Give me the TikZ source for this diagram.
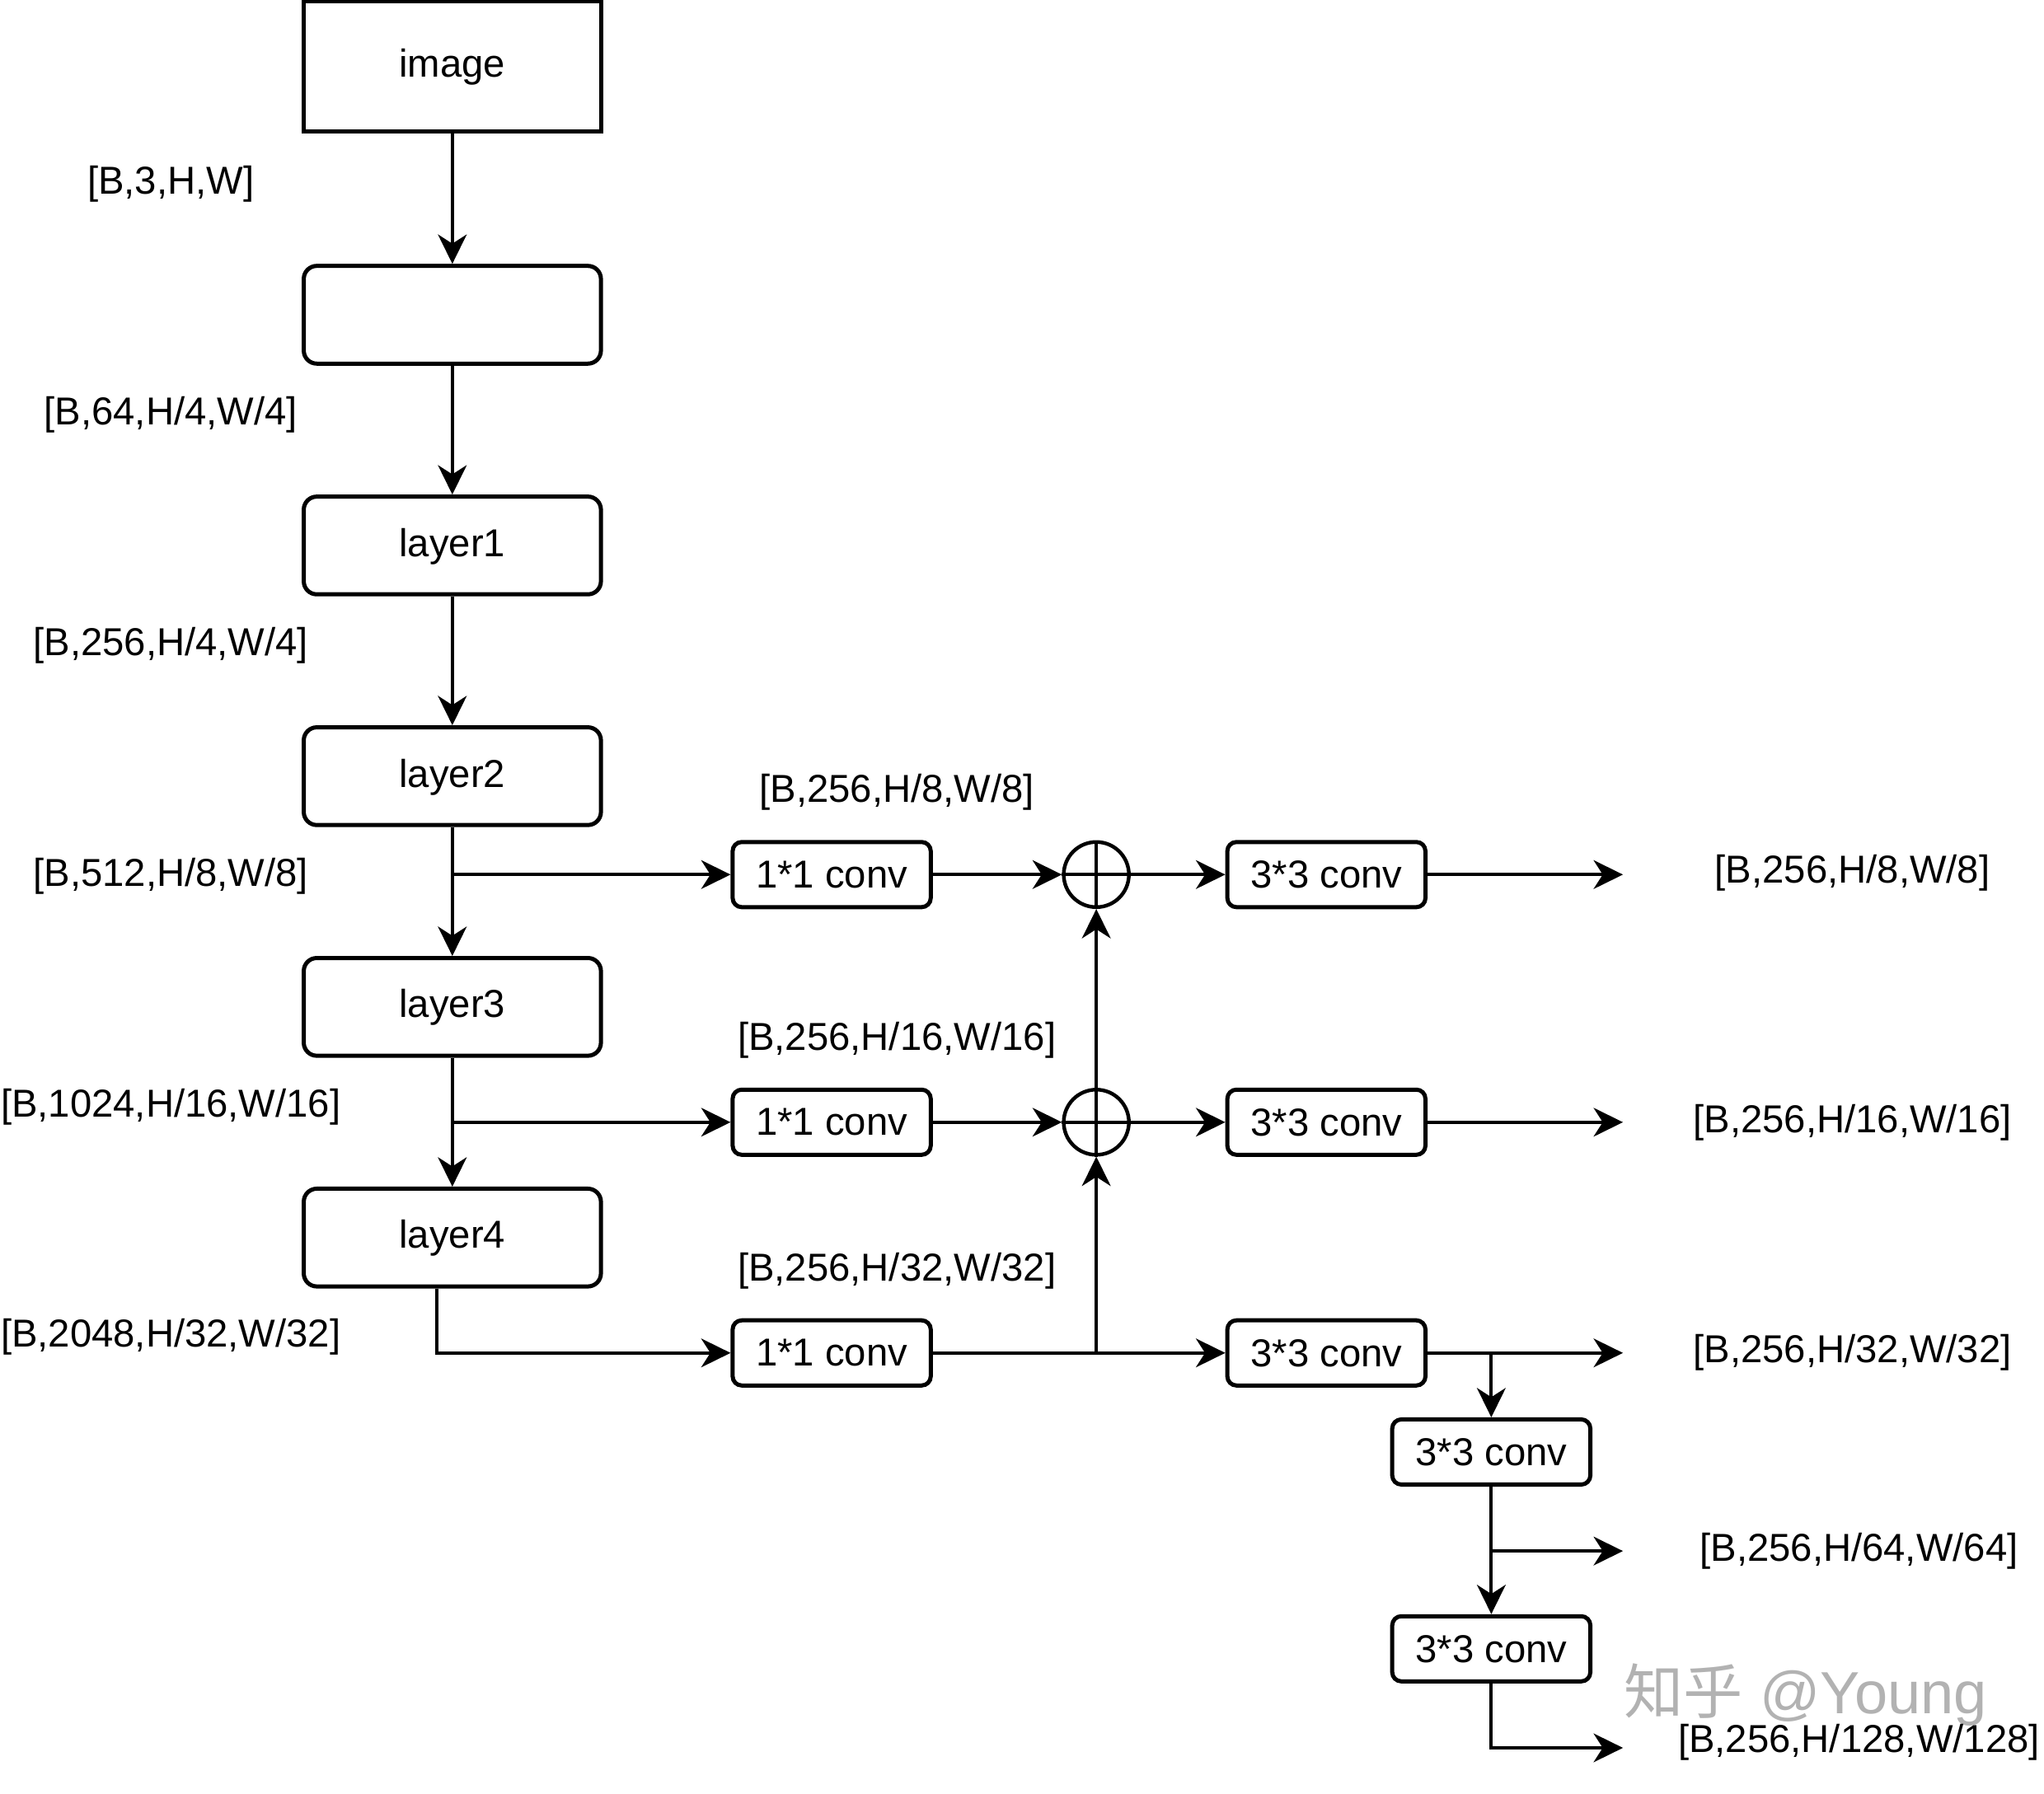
\documentclass[tikz,border=0pt]{standalone}
\usepackage{fontspec}
\setmainfont{Liberation Sans}
\newfontfamily\cjk{Noto Sans CJK SC}
\usetikzlibrary{arrows.meta}
\begin{document}
\begin{tikzpicture}[x=0.02cm,y=-0.02cm,
  font=\fontsize{17}{20}\selectfont,
  bigbox/.style={draw, line width=1.8pt, minimum width=4.56cm, minimum height=2cm, inner sep=0pt, text depth=0.1cm},
  layerbox/.style={draw, line width=1.8pt, rounded corners=0.2cm, minimum width=4.56cm, minimum height=1.5cm, inner sep=0pt, text depth=0.1cm},
  convbox/.style={draw, line width=1.8pt, rounded corners=0.14cm, minimum width=3.04cm, minimum height=1cm, inner sep=0pt},
  sumnode/.style={draw, circle, line width=1.6pt, minimum size=1cm, inner sep=0pt},
  lbl/.style={inner sep=0pt},
  arr/.style={line width=1.45pt, -{Stealth[length=0.45cm, width=0.44cm, inset=0.14cm]}},
  ln/.style={line width=1.45pt}
]
\useasboundingbox (0,0) rectangle (1568,1376);

% backbone
\node[bigbox] (img) at (347,51) {image};
\node[layerbox] (stem) at (347,241.5) {};
\node[layerbox] (l1) at (347,418.5) {layer1};
\node[layerbox] (l2) at (347,595.5) {layer2};
\node[layerbox] (l3) at (347,772.5) {layer3};
\node[layerbox] (l4) at (347,949.5) {layer4};

% left labels
\node[lbl] (t0) at (131,141) {[B,3,H,W]};
\node[lbl] (t1) at (131,318) {[B,64,H/4,W/4]};
\node[lbl] (t2) at (131,495) {[B,256,H/4,W/4]};
\node[lbl] (t3) at (131,672) {[B,512,H/8,W/8]};
\node[lbl] (t4) at (131,849) {[B,1024,H/16,W/16]};
\node[lbl] (t5) at (131,1026) {[B,2048,H/32,W/32]};

% lateral 1x1 convs
\node[convbox] (c1a) at (638,671) {1*1 conv};
\node[convbox] (c1b) at (638,861) {1*1 conv};
\node[convbox] (c1c) at (638,1038) {1*1 conv};
\node[lbl] (u1) at (688,608) {[B,256,H/8,W/8]};
\node[lbl] (u2) at (688,798) {[B,256,H/16,W/16]};
\node[lbl] (u3) at (688,975) {[B,256,H/32,W/32]};

% sums
\node[sumnode] (s1) at (841,671) {};
\node[sumnode] (s2) at (841,861) {};
\draw[line width=1.45pt] (s1.north) -- (s1.south) (s1.west) -- (s1.east);
\draw[line width=1.45pt] (s2.north) -- (s2.south) (s2.west) -- (s2.east);

% 3x3 convs
\node[convbox] (c3a) at (1017.5,671) {3*3 conv};
\node[convbox] (c3b) at (1017.5,861) {3*3 conv};
\node[convbox] (c3c) at (1017.5,1038) {3*3 conv};
\node[convbox] (c3d) at (1144,1114) {3*3 conv};
\node[convbox] (c3e) at (1144,1265) {3*3 conv};

% connector coordinates
\coordinate (o1) at (1245,671);
\coordinate (o2) at (1245,861);
\coordinate (o3) at (1245,1038);
\coordinate (o4) at (1245,1190);
\coordinate (o5) at (1245,1341);
\coordinate (j1) at (347,671);
\coordinate (j2) at (347,861);
\coordinate (j3) at (841,1038);
\coordinate (j4) at (1144,1038);
\coordinate (j5) at (1144,1190);

% watermark
\node[lbl, text=black!30, font=\fontsize{26}{30}\selectfont] (wm) at (1385,1300) {{\cjk 知乎} @Young};

% right labels
\node[lbl] (r1) at (1421,670) {[B,256,H/8,W/8]};
\node[lbl] (r2) at (1421,861) {[B,256,H/16,W/16]};
\node[lbl] (r3) at (1421,1038) {[B,256,H/32,W/32]};
\node[lbl] (r4) at (1426,1190) {[B,256,H/64,W/64]};
\node[lbl] (r5) at (1426,1337) {[B,256,H/128,W/128]};

% backbone arrows
\draw[arr] (img) -- (stem);
\draw[arr] (stem) -- (l1);
\draw[arr] (l1) -- (l2);
\draw[arr] (l2) -- (l3);
\draw[arr] (l3) -- (l4);

% lateral arrows
\draw[arr] (j1) -- (c1a.west);
\draw[arr] (j2) -- (c1b.west);
\draw[arr] ([xshift=-0.24cm]l4.south) |- (c1c.west);

\draw[arr] (c1a.east) -- (s1.west);
\draw[arr] (c1b.east) -- (s2.west);
\draw[ln] (c1c.east) -- (j3);
\draw[arr] (j3) -- (c3c.west);
\draw[arr] (j3) -- (s2.south);
\draw[arr] (s2.north) -- (s1.south);

\draw[arr] (s1.east) -- (c3a.west);
\draw[arr] (s2.east) -- (c3b.west);

% outputs
\draw[arr] (c3a.east) -- (o1);
\draw[arr] (c3b.east) -- (o2);
\draw[arr] (c3c.east) -- (o3);
\draw[arr] (j4) -- (c3d.north);
\draw[arr] (c3d.south) -- (c3e.north);
\draw[arr] (j5) -- (o4);
\draw[arr] (c3e.south) |- (o5);
\end{tikzpicture}
\end{document}
